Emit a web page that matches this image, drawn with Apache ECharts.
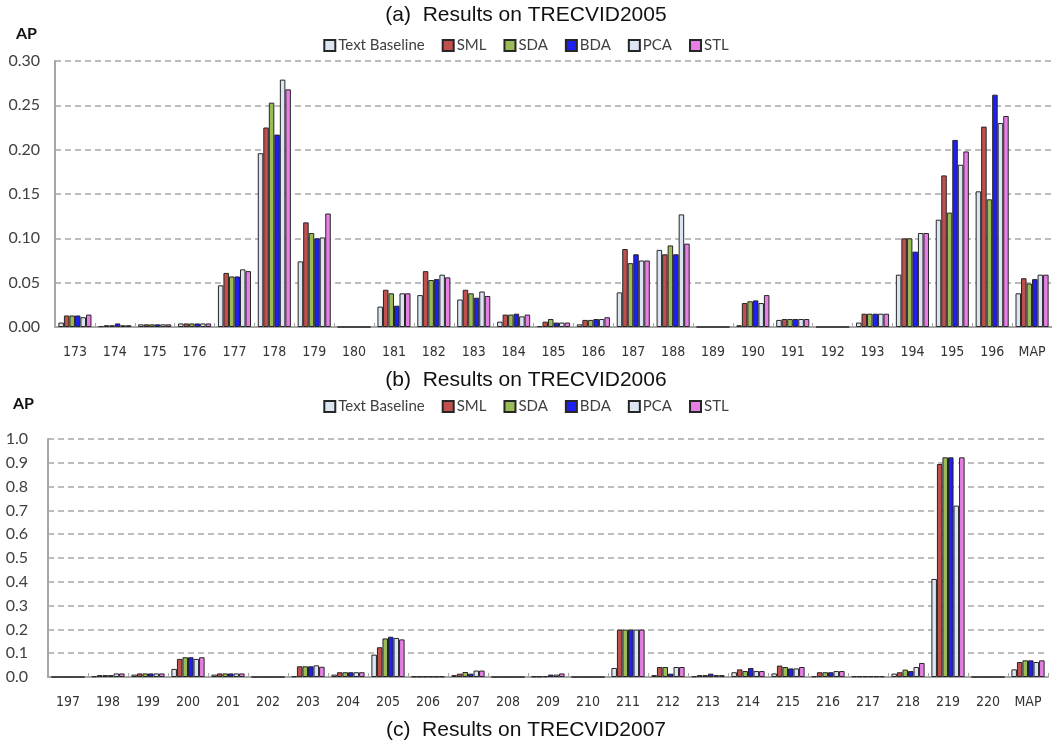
<!DOCTYPE html>
<html>
<head>
<meta charset="utf-8">
<script src="https://cdn.jsdelivr.net/npm/echarts@6/dist/echarts.min.js"></script>
<style>
html,body{margin:0;padding:0;background:#fff;}
#main{width:1052px;height:744px;}
</style>
</head>
<body>
<div id="main"></div>
<script>
// categories
var cats2005 = ['173','174','175','176','177','178','179','180','181','182','183','184','185','186','187','188','189','190','191','192','193','194','195','196','MAP'];
var cats2006 = ['197','198','199','200','201','202','203','204','205','206','207','208','209','210','211','212','213','214','215','216','217','218','219','220','MAP'];
var methods = ['Text Baseline','SML','SDA','BDA','PCA','STL'];
var colors = ['#dce6f2','#c0504d','#9bbb59','#1f1ff2','#dce6f2','#e97ee6'];

// (a) TRECVID2005
var tb05  = [0.005,0.001,0.003,0.004,0.047,0.196,0.074,0,0.023,0.036,0.031,0.006,0.001,0.003,0.039,0.087,0,0.002,0.008,0,0.005,0.059,0.121,0.153,0.038];
var sml05 = [0.013,0.002,0.003,0.004,0.061,0.225,0.118,0,0.042,0.063,0.042,0.014,0.006,0.008,0.088,0.082,0,0.027,0.009,0,0.015,0.100,0.171,0.226,0.055];
var sda05 = [0.013,0.002,0.003,0.004,0.057,0.253,0.106,0,0.038,0.053,0.038,0.014,0.009,0.008,0.072,0.092,0,0.029,0.009,0,0.015,0.100,0.129,0.144,0.049];
var bda05 = [0.013,0.004,0.003,0.004,0.057,0.217,0.100,0,0.024,0.054,0.033,0.015,0.005,0.009,0.082,0.082,0,0.030,0.009,0,0.015,0.085,0.211,0.262,0.054];
var pca05 = [0.011,0.002,0.003,0.004,0.065,0.279,0.101,0,0.038,0.059,0.040,0.012,0.005,0.009,0.075,0.127,0,0.027,0.009,0,0.015,0.106,0.183,0.230,0.059];
var stl05 = [0.014,0.002,0.003,0.004,0.063,0.268,0.128,0,0.038,0.056,0.035,0.014,0.005,0.011,0.075,0.094,0,0.036,0.009,0,0.015,0.106,0.198,0.238,0.059];

// (b) TRECVID2006
var tb06  = [0,0.003,0.010,0.034,0.010,0,0.003,0.010,0.094,0.002,0.008,0,0.002,0,0.038,0.008,0.003,0.020,0.015,0.003,0.003,0.014,0.412,0,0.032];
var sml06 = [0,0.008,0.015,0.076,0.015,0,0.045,0.020,0.125,0.002,0.014,0,0.002,0,0.199,0.042,0.008,0.032,0.048,0.020,0.003,0.020,0.895,0,0.063];
var sda06 = [0,0.008,0.015,0.083,0.015,0,0.045,0.020,0.162,0.002,0.021,0,0.003,0,0.199,0.042,0.008,0.025,0.042,0.020,0.003,0.031,0.923,0,0.070];
var bda06 = [0,0.008,0.015,0.083,0.015,0,0.045,0.020,0.169,0.002,0.014,0,0.010,0,0.199,0.014,0.014,0.038,0.036,0.020,0.003,0.025,0.923,0,0.070];
var pca06 = [0,0.015,0.015,0.076,0.015,0,0.049,0.020,0.164,0.002,0.027,0,0.010,0,0.199,0.042,0.008,0.025,0.036,0.025,0.003,0.042,0.720,0,0.063];
var stl06 = [0,0.015,0.015,0.083,0.015,0,0.043,0.020,0.158,0.002,0.027,0,0.015,0,0.199,0.042,0.008,0.025,0.042,0.025,0.003,0.059,0.923,0,0.070];

var yTicks05 = {min:0, max:0.30, interval:0.05};
var yTicks06 = {min:0, max:1.0, interval:0.1};

var data05 = [tb05,sml05,sda05,bda05,pca05,stl05];
var data06 = [tb06,sml06,sda06,bda06,pca06,stl06];

var narrow = '"Liberation Sans Narrow","DejaVu Sans Condensed",sans-serif';
var arial = '"Liberation Sans",Arial,sans-serif';
var calib = 'Lato,"Open Sans",sans-serif';

function xAx(cats, gi){
    return {
        type:'category', gridIndex:gi, data:cats,
        axisLine:{lineStyle:{color:'#a6a6a6', width:2}},
        axisTick:{show:true, inside:true, length:4, lineStyle:{color:'#a6a6a6'}},
        axisLabel:{interval:0, margin:18, color:'#333', fontSize:14, fontFamily:narrow},
        splitLine:{show:false}
    };
}
function yAx(t, gi, dec, mg){
    return {
        type:'value', gridIndex:gi, min:t.min, max:t.max, interval:t.interval,
        axisLine:{show:true, lineStyle:{color:'#a6a6a6', width:2}},
        axisTick:{show:false},
        axisLabel:{margin:mg, color:'#404040', fontSize:16, fontFamily:calib,
            formatter:function(v){ return v.toFixed(dec); }},
        splitLine:{lineStyle:{color:'#a6a6a6', width:1.5, type:[6,4]}}
    };
}

var series = [];
methods.forEach(function(m, i){
    series.push({
        name:m, type:'bar', xAxisIndex:0, yAxisIndex:0, data:data05[i],
        barGap:'0%', barCategoryGap:'17%',
        itemStyle:{color:colors[i], borderColor:'#262626', borderWidth:1},
        animation:false
    });
});
methods.forEach(function(m, i){
    series.push({
        name:m, type:'bar', xAxisIndex:1, yAxisIndex:1, data:data06[i],
        barGap:'0%', barCategoryGap:'17%',
        itemStyle:{color:colors[i], borderColor:'#262626', borderWidth:1},
        animation:false
    });
});

function leg(top){
    return {
        top:top, left:'center', data:methods, icon:'rect',
        itemWidth:11, itemHeight:11, itemGap:17,
        textStyle:{color:'#404040', fontSize:15, fontFamily:calib, padding:[0,0,0,-2]},
        selectedMode:false
    };
}

var option = {
    backgroundColor:'#fff',
    animation:false,
    title:[
        {text:'(a)  Results on TRECVID2005', left:'center', top:0, textStyle:{fontSize:21, fontWeight:'normal', color:'#111', fontFamily:arial}},
        {text:'(b)  Results on TRECVID2006', left:'center', top:365, textStyle:{fontSize:21, fontWeight:'normal', color:'#111', fontFamily:arial}},
        {text:'(c)  Results on TRECVID2007', left:'center', top:715, textStyle:{fontSize:21, fontWeight:'normal', color:'#111', fontFamily:arial}},
        {text:'AP', left:11, top:21, textStyle:{fontSize:16, fontWeight:'bold', color:'#111', fontFamily:calib}},
        {text:'AP', left:8, top:391, textStyle:{fontSize:16, fontWeight:'bold', color:'#111', fontFamily:calib}}
    ],
    legend:[leg(33), leg(394)],
    grid:[
        {left:55, top:61, width:1000, height:266},
        {left:48, top:439, width:1000, height:238}
    ],
    xAxis:[xAx(cats2005,0), xAx(cats2006,1)],
    yAxis:[yAx(yTicks05,0,2,15), yAx(yTicks06,1,1,20)],
    series:series
};

var myChart = echarts.init(document.getElementById('main'));
myChart.setOption(option);
</script>
</body>
</html>
